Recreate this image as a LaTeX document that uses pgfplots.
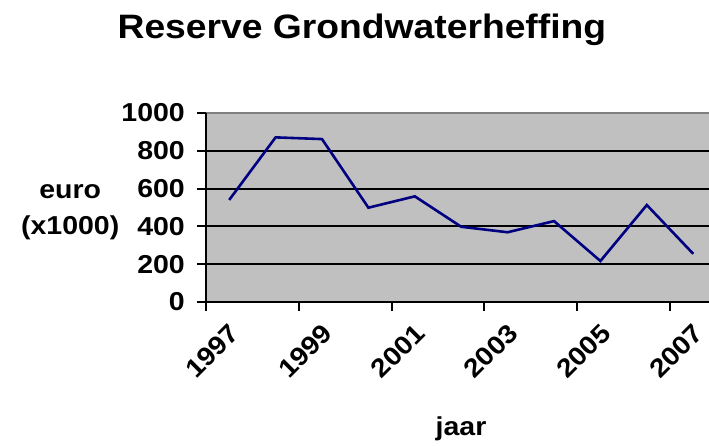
\documentclass[border=0pt]{standalone}
\usepackage{fontspec}
\setmainfont{Liberation Sans}[FakeStretch=1.1]
\usepackage{pgfplots}
\pgfplotsset{compat=1.18}
\definecolor{plotgray}{RGB}{192,192,192}
\definecolor{bordergray}{RGB}{128,128,128}
\definecolor{navyline}{RGB}{0,0,128}
\begin{document}
\begin{tikzpicture}
\begin{axis}[
  at={(206bp,144bp)}, anchor=south west,
  width=503bp, height=189bp, scale only axis,
  xmin=-0.5, xmax=10.34,
  ymin=0, ymax=1000,
  xtick={-0.5,1.5,3.5,5.5,7.5,9.5},
  xticklabels={1997,1999,2001,2003,2005,2007},
  ytick={0,200,400,600,800,1000},
  /pgf/number format/assume math mode=true,
  /pgf/number format/1000 sep={},
  tick align=outside,
  xtick pos=bottom, ytick pos=left,
  major tick length=9bp,
  major tick style={black, line width=2bp},
  axis line style={draw=none},
  axis background/.style={fill=plotgray},
  ymajorgrids,
  grid style={black, line width=2bp},
  tick label style={font=\fontsize{26}{30}\selectfont\bfseries},
  xticklabel style={rotate=45, anchor=east, inner sep=0pt, xshift=8bp, yshift=-33bp},
  yticklabel style={inner sep=0pt, xshift=-12bp},
  title={Reserve Grondwaterheffing},
  title style={font=\fontsize{34}{40}\selectfont\bfseries, at={(axis description cs:0.310,1.365)}, anchor=base},
  xlabel={jaar},
  xlabel style={font=\fontsize{26}{30}\selectfont\bfseries, at={(axis description cs:0.507,-0.704)}, anchor=base},
  ylabel={euro\\(x1000)},
  ylabel style={font=\fontsize{26}{37}\selectfont\bfseries, rotate=-90, align=center, at={(axis description cs:-0.270,0.475)}, anchor=center},
  clip=false,
]
\addplot[navyline, line width=2.6bp] coordinates {
  (0,540) (1,871) (2,862) (3,499) (4,559) (5,398) (6,369) (7,428) (8,217) (9,513) (10,255)
};
\draw[bordergray, line width=2bp] (rel axis cs:0,1) -- (rel axis cs:1,1);
\draw[black, line width=2bp] (rel axis cs:0,1) -- (rel axis cs:0,0) -- (rel axis cs:1,0);
\end{axis}
\pgfresetboundingbox
\useasboundingbox (0,0) rectangle (709bp,446bp);
\end{tikzpicture}
\end{document}
